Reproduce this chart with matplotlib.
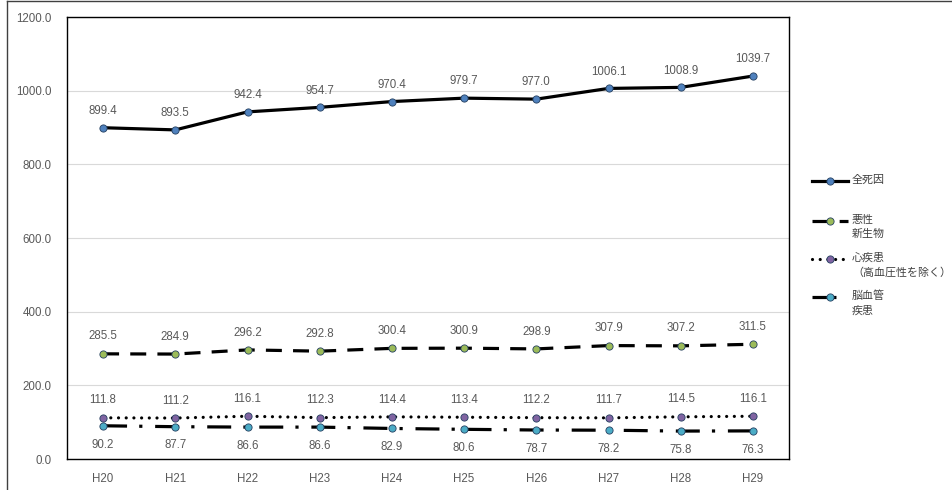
import matplotlib
matplotlib.use('Agg')
import matplotlib.pyplot as plt
from matplotlib.lines import Line2D

plt.rcParams['font.family'] = ['Noto Sans CJK JP', 'DejaVu Sans']

# data
years = ['H20', 'H21', 'H22', 'H23', 'H24', 'H25', 'H26', 'H27', 'H28', 'H29']
all_causes = [899.4, 893.5, 942.4, 954.7, 970.4, 979.7, 977.0, 1006.1, 1008.9, 1039.7]
cancer = [285.5, 284.9, 296.2, 292.8, 300.4, 300.9, 298.9, 307.9, 307.2, 311.5]
heart = [111.8, 111.2, 116.1, 112.3, 114.4, 113.4, 112.2, 111.7, 114.5, 116.1]
stroke = [90.2, 87.7, 86.6, 86.6, 82.9, 80.6, 78.7, 78.2, 75.8, 76.3]
series_names = ['全死因', '悪性\n新生物', '心疾患\n（高血圧性を除く）', '脳血管\n疾患']

W, H = 952, 490
fig = plt.figure(figsize=(W/100, H/100), dpi=100)
ax = fig.add_axes([67/W, 1-459/H, 722/W, 442/H])

x = list(range(len(years)))
num_col = '#595959'
num_font = 'Liberation Sans'
lab_fs = 8.3

dotted = (0, (0.01, 2.4))
styles = [
    (all_causes, '#4f81bd', '-', 12),
    (cancer, '#9bbb59', (0, (5, 3.5)), 12.5),
    (heart, '#8064a2', dotted, 12.5),
    (stroke, '#4bacc6', (0, (7.5, 3.8, 1.0, 4.0)), -13.5),
]

for vals, mcol, ls, off in styles:
    ax.plot(x, vals, color='black', linewidth=2.3, linestyle=ls,
            dash_capstyle='round' if ls == dotted else 'butt',
            marker='o', markersize=5.2, markerfacecolor=mcol,
            markeredgecolor='#243f60', markeredgewidth=0.6, zorder=3)
    for xi, v in zip(x, vals):
        ax.annotate('%.1f' % v, (xi, v), xytext=(0, off),
                    textcoords='offset points', ha='center', va='center',
                    fontsize=lab_fs, color=num_col, family=num_font)

ax.set_xlim(-0.5, len(years) - 0.5)
ax.set_ylim(0, 1200)
ax.set_yticks([0, 200, 400, 600, 800, 1000, 1200])
ax.set_yticklabels(['%.1f' % t for t in ax.get_yticks()], family=num_font)
ax.set_xticks(x)
ax.set_xticklabels(years, family=num_font)
ax.tick_params(axis='both', length=0, labelsize=lab_fs, colors=num_col)
ax.tick_params(axis='x', pad=10)
ax.tick_params(axis='y', pad=11)
ax.grid(axis='y', color='#d9d9d9', linewidth=0.8)
ax.set_axisbelow(True)
for sp in ax.spines.values():
    sp.set_color('black')
    sp.set_linewidth(1.0)

# legend drawn by hand so the handle sits on the first text line
leg_y = [181, 221, 259, 297]
for (vals, mcol, ls, off), name, yy in zip(styles, series_names, leg_y):
    fy = 1 - yy/H
    fig.add_artist(Line2D([812/W, 848/W], [fy, fy], transform=fig.transFigure,
                          color='black', linewidth=2.3, linestyle=ls,
                          dash_capstyle='round' if ls == dotted else 'butt'))
    fig.add_artist(Line2D([830/W], [fy], transform=fig.transFigure,
                          marker='o', markersize=5.2, markerfacecolor=mcol,
                          markeredgecolor='#243f60', markeredgewidth=0.6,
                          linestyle='none'))
    fig.text(852/W, fy + 6.5/H, name, ha='left', va='top', fontsize=7.9,
             color='#404040', linespacing=1.5)

# outer frame of the chart (top and left edges visible)
fig.add_artist(Line2D([7/W, 7/W], [0, 1 - 1/H], transform=fig.transFigure,
                      color='#404040', linewidth=1.0))
fig.add_artist(Line2D([7/W, 1], [1 - 1/H, 1 - 1/H], transform=fig.transFigure,
                      color='#404040', linewidth=1.0))

fig.savefig('out.png', dpi=100)
